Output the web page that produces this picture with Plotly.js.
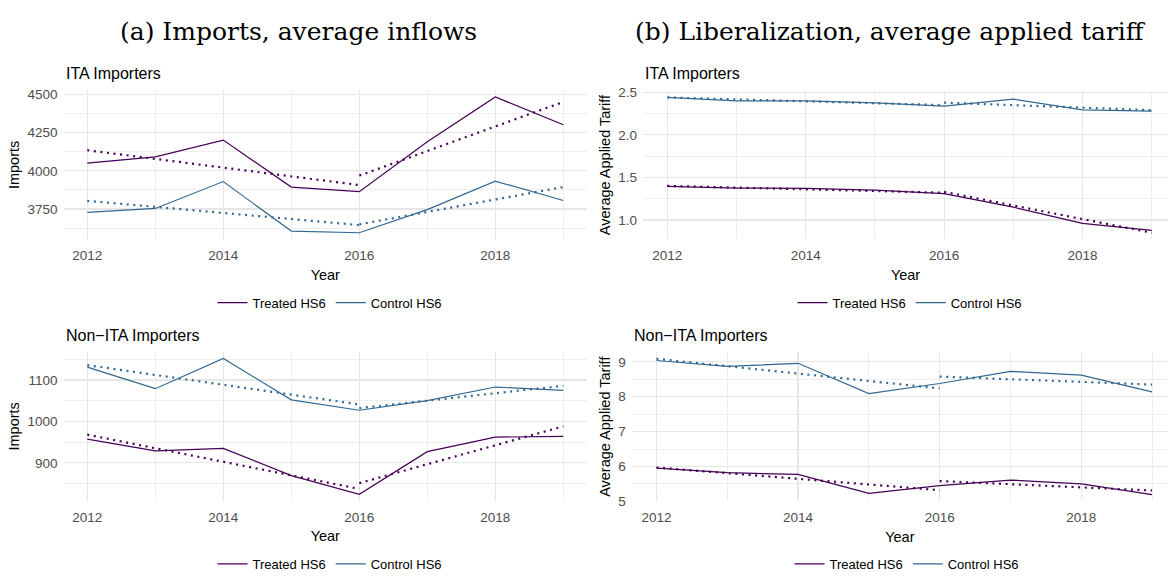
<!DOCTYPE html>
<html>
<head>
<meta charset="utf-8">
<script src="https://cdn.plot.ly/plotly-3.0.1.min.js"></script>
<style>
  html, body { margin: 0; padding: 0; background: #ffffff; }
  #chart { width: 1168px; height: 579px; }
</style>
</head>
<body>
<div id="chart"></div>
<script>
// Years covered by the panel
const years = [2012, 2013, 2014, 2015, 2016, 2017, 2018, 2019];
// Linear trend segments: before and after 2016
const fitYearsPre = [2012, 2016];
const fitYearsPost = [2016, 2019];

// (a) Imports, average inflows — ITA importers
const itaImportsTreated = [4051, 4092, 4201, 3894, 3864, 4190, 4483, 4302];
const itaImportsControl = [3728, 3754, 3930, 3606, 3595, 3746, 3933, 3806];
const itaImportsTreatedFitPre = [4135, 3907];
const itaImportsTreatedFitPost = [3969, 4451];
const itaImportsControlFitPre = [3804, 3645];
const itaImportsControlFitPost = [3650, 3894];

// (a) Imports, average inflows — Non-ITA importers
const nonItaImportsTreated = [957, 929, 935, 869, 824, 927, 962, 964];
const nonItaImportsControl = [1131, 1079, 1152, 1052, 1027, 1050, 1083, 1075];
const nonItaImportsTreatedFitPre = [968, 837];
const nonItaImportsTreatedFitPost = [851, 988];
const nonItaImportsControlFitPre = [1136, 1041];
const nonItaImportsControlFitPost = [1032, 1086];

// (b) Liberalization, average applied tariff — ITA importers
const itaTariffTreated = [1.394, 1.375, 1.370, 1.350, 1.310, 1.150, 0.960, 0.877];
const itaTariffControl = [2.442, 2.400, 2.400, 2.376, 2.338, 2.420, 2.295, 2.280];
const itaTariffTreatedFitPre = [1.40, 1.32];
const itaTariffTreatedFitPost = [1.33, 0.85];
const itaTariffControlFitPre = [2.44, 2.35];
const itaTariffControlFitPost = [2.38, 2.29];

// (b) Liberalization, average applied tariff — Non-ITA importers
const nonItaTariffTreated = [5.95, 5.82, 5.77, 5.23, 5.45, 5.61, 5.50, 5.19];
const nonItaTariffControl = [9.04, 8.87, 8.96, 8.09, 8.38, 8.73, 8.62, 8.14];
const nonItaTariffTreatedFitPre = [5.97, 5.32];
const nonItaTariffTreatedFitPost = [5.58, 5.31];
const nonItaTariffControlFitPre = [9.09, 8.24];
const nonItaTariffControlFitPost = [8.58, 8.35];

const seriesNames = ['Treated HS6', 'Control HS6'];
const panelTitles = ['ITA Importers', 'ITA Importers', 'Non\u2212ITA Importers', 'Non\u2212ITA Importers'];
const figureTitles = ['(a) Imports, average inflows', '(b) Liberalization, average applied tariff'];

const TREATED = '#440154';
const CONTROL = '#33678f';
const W = 1168, H = 579;
const SANS = 'Liberation Sans, Arial, sans-serif';

// pixel box -> paper domain helpers
const dx = (a, b) => [a / W, b / W];
const dy = (top, bottom) => [1 - bottom / H, 1 - top / H];

// ggplot-style 5% expansion of the data range
function expanded(arrays) {
  const all = [].concat(...arrays);
  const lo = Math.min(...all), hi = Math.max(...all);
  const pad = (hi - lo) * 0.05;
  return [lo - pad, hi + pad];
}

const panels = [
  { key: '', legend: 'legend', ytitle: 'Imports', dtick: 250, tick0: 3750, minor: 125, fmt: 'd',
    xdom: dx(63.5, 587.1), ydom: dy(91.5, 242.9), xmax: 2019.35,
    treated: itaImportsTreated, control: itaImportsControl,
    tPre: itaImportsTreatedFitPre, tPost: itaImportsTreatedFitPost,
    cPre: itaImportsControlFitPre, cPost: itaImportsControlFitPost,
    legendX: 330, legendY: 307 },
  { key: '2', legend: 'legend2', ytitle: 'Average Applied Tariff', dtick: 0.5, tick0: 1, minor: 0.25, fmt: '.1f',
    xdom: dx(643.1, 1168), ydom: dy(91.8, 242.8), xmax: 2019.235,
    treated: itaTariffTreated, control: itaTariffControl,
    tPre: itaTariffTreatedFitPre, tPost: itaTariffTreatedFitPost,
    cPre: itaTariffControlFitPre, cPost: itaTariffControlFitPost,
    legendX: 910, legendY: 307 },
  { key: '3', legend: 'legend3', ytitle: 'Imports', dtick: 100, tick0: 900, minor: 50, fmt: 'd',
    xdom: dx(63.5, 587.1), ydom: dy(356.6, 508.1), xmax: 2019.35,
    treated: nonItaImportsTreated, control: nonItaImportsControl,
    tPre: nonItaImportsTreatedFitPre, tPost: nonItaImportsTreatedFitPost,
    cPre: nonItaImportsControlFitPre, cPost: nonItaImportsControlFitPost,
    legendX: 330, legendY: 572 },
  { key: '4', legend: 'legend4', ytitle: 'Average Applied Tariff', dtick: 1, tick0: 5, minor: 0.5, fmt: 'd',
    xdom: dx(631.7, 1168), ydom: dy(356.9, 508.5), xmax: 2019.225,
    treated: nonItaTariffTreated, control: nonItaTariffControl,
    tPre: nonItaTariffTreatedFitPre, tPost: nonItaTariffTreatedFitPost,
    cPre: nonItaTariffControlFitPre, cPost: nonItaTariffControlFitPost,
    legendX: 907, legendY: 572 }
];

const traces = [];
const layout = {
  width: W, height: H,
  margin: { l: 0, r: 0, t: 0, b: 0 },
  paper_bgcolor: '#ffffff', plot_bgcolor: '#ffffff',
  font: { family: SANS, color: '#000000' },
  annotations: [], hovermode: false
};

panels.forEach((p, i) => {
  const xa = 'x' + p.key, ya = 'y' + p.key;
  const solid = (y, color, name) => ({
    type: 'scatter', mode: 'lines', x: years, y: y, name: name,
    xaxis: xa, yaxis: ya, legend: p.legend, showlegend: true,
    line: { color: color, width: 1.2 }
  });
  const trend = (pre, post, color) => ({
    type: 'scatter', mode: 'lines',
    x: fitYearsPre.concat([null], fitYearsPost),
    y: pre.concat([null], post),
    xaxis: xa, yaxis: ya, showlegend: false, connectgaps: false,
    line: { color: color, width: 2.2, dash: '2px,4.6px' }
  });
  traces.push(trend(p.tPre, p.tPost, TREATED));
  traces.push(trend(p.cPre, p.cPost, CONTROL));
  traces.push(solid(p.treated, TREATED, seriesNames[0]));
  traces.push(solid(p.control, CONTROL, seriesNames[1]));

  const grid = '#e6e6e6';
  const minorGrid = '#ececec';
  layout['xaxis' + p.key] = {
    domain: p.xdom, anchor: ya, range: [2011.65, p.xmax],
    tickmode: 'linear', tick0: 2012, dtick: 2,
    showgrid: true, gridcolor: grid, gridwidth: 1.2,
    minor: { dtick: 1, tick0: 2012, showgrid: true, gridcolor: minorGrid, gridwidth: 0.9 },
    zeroline: false, showline: false, ticks: '',
    tickfont: { family: SANS, size: 13.5, color: '#4d4d4d' },
    ticklabelstandoff: 6,
    title: { text: 'Year', font: { family: SANS, size: 14.5, color: '#000000' }, standoff: 7 },
    fixedrange: true
  };
  layout['yaxis' + p.key] = {
    domain: p.ydom, anchor: xa,
    range: expanded([p.treated, p.control, p.tPre, p.tPost, p.cPre, p.cPost]),
    tickmode: 'linear', tick0: p.tick0, dtick: p.dtick, tickformat: p.fmt,
    showgrid: true, gridcolor: grid, gridwidth: 1.2,
    minor: { dtick: p.minor, tick0: p.tick0, showgrid: true, gridcolor: minorGrid, gridwidth: 0.9 },
    zeroline: false, showline: false, ticks: '',
    tickfont: { family: SANS, size: 13.5, color: '#4d4d4d' },
    ticklabelstandoff: 5,
    title: { text: p.ytitle, font: { family: SANS, size: 14.5, color: '#000000' }, standoff: 4 },
    fixedrange: true
  };
  layout[p.legend] = {
    orientation: 'h', x: p.legendX / W, y: 1 - p.legendY / H,
    xanchor: 'center', yanchor: 'middle', xref: 'paper', yref: 'paper',
    font: { family: SANS, size: 13, color: '#000000' },
    bgcolor: 'rgba(0,0,0,0)', itemwidth: 30, tracegroupgap: 0
  };
  layout.annotations.push({
    text: panelTitles[i], xref: 'paper', yref: 'paper',
    x: p.xdom[0], y: 1 - (i < 2 ? 75 : 340.7) / H,
    xanchor: 'left', yanchor: 'middle', showarrow: false,
    font: { family: SANS, size: 16, color: '#000000' }
  });
});

// Sub-figure headings
[[298.5, figureTitles[0]], [890, figureTitles[1]]].forEach(([cx, txt]) => {
  layout.annotations.push({
    text: txt, xref: 'paper', yref: 'paper', x: cx / W, y: 1 - 32 / H,
    xanchor: 'center', yanchor: 'middle', showarrow: false,
    font: { family: 'DejaVu Serif, serif', size: 25, color: '#000000' }
  });
});

Plotly.newPlot('chart', traces, layout, { staticPlot: true, displayModeBar: false });
</script>
</body>
</html>
